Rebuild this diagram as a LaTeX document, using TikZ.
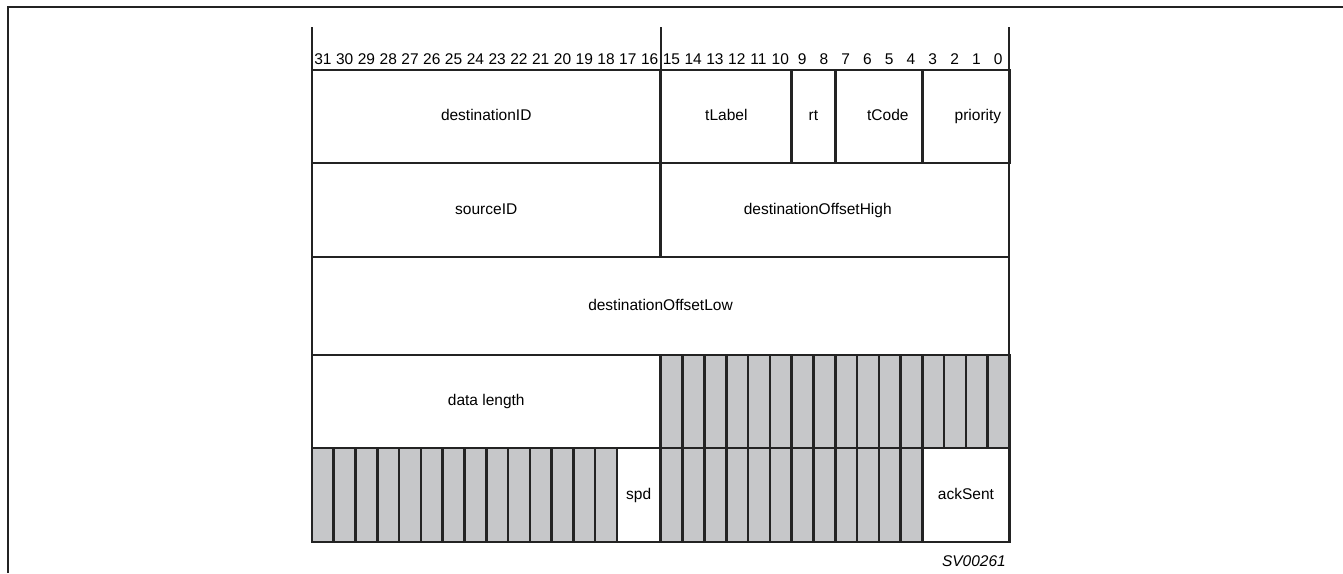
\documentclass[tikz,border=0pt]{standalone}
\usepackage{fontspec}
\setmainfont{Liberation Sans}
\usetikzlibrary{positioning}
\definecolor{cellgray}{RGB}{198,199,201}
\definecolor{linegray}{RGB}{35,35,35}
\newcommand{\bw}{21.78}
\tikzset{
  txt/.style={font=\fontsize{15.5}{18}\selectfont, text height=11pt, text depth=3pt},
  field/.style={txt, draw=linegray, line width=2.6pt, rectangle, inner sep=0pt,
    outer sep=0pt, anchor=north west},
  cell/.style={field, fill=cellgray, minimum width=\bw pt},
  bitnum/.style={inner sep=0pt, font=\fontsize{15.5}{18}\selectfont},
  frame/.style={draw=linegray, line width=2.8pt},
}

\begin{document}
\begin{tikzpicture}[x=1pt, y=-1pt]
    \useasboundingbox (0,0) rectangle (1343,573);
    \draw[frame] (8,573) -- (8,7) -- (1343,7);
    % bit numbers
    \foreach \b in {0,...,31}
        \node[bitnum] (b\b) at ({1009-(\b+0.5)*\bw},59) {\b};
    \draw[field] (312,27) -- (312,70);
    \draw[field] (661,27) -- (661,70);
    \draw[field] (1009,27) -- (1009,70);
    % row 1
    \node[field, minimum width=16*\bw pt, minimum height=93] (dstid) at (312,70) {destinationID};
    \node[field, minimum width=6*\bw pt, minimum height=93] (tlabel) at (661,70) {tLabel};
    \node[field, minimum width=2*\bw pt, minimum height=93] (rt) at (tlabel.north east) {rt};
    \node[field, minimum width=4*\bw pt, minimum height=93,
        label={[txt, xshift=9pt]center:tCode}] (tcode) at (rt.north east) {};
    \node[field, minimum width=4*\bw pt, minimum height=93,
        label={[txt, xshift=12pt]center:priority}] (prio) at (tcode.north east) {};
    % row 2
    \node[field, minimum width=16*\bw pt, minimum height=94] (srcid) at (dstid.south west) {sourceID};
    \node[field, minimum width=16*\bw pt, minimum height=94,
        label={[txt, xshift=-17pt]center:destinationOffsetHigh}] (offhigh) at (srcid.north east) {};
    % row 3
    \node[field, minimum width=32*\bw pt, minimum height=98] (offlow) at (srcid.south west) {destinationOffsetLow};
    % row 4
    \node[field, minimum width=16*\bw pt, minimum height=93] (datalen) at (offlow.south west) {data length};
    \foreach \i in {0,...,15}
        \node[cell, minimum height=93] (ra\i) at ({661+\i*\bw},355) {};
    % row 5
    \foreach \i in {0,...,13}
        \node[cell, minimum height=94] (rl\i) at ({312+\i*\bw},448) {};
    \node[field, minimum width=2*\bw pt, minimum height=94] (spd) at (rl13.north east) {spd};
    \foreach \i in {0,...,11}
        \node[cell, minimum height=94] (rr\i) at ({661+\i*\bw},448) {};
    \node[field, minimum width=4*\bw pt, minimum height=94] (ack) at (rr11.north east) {ackSent};
    \node[anchor=base east, inner sep=0pt, font=\fontsize{15.5}{18}\selectfont\itshape] (fig) at (1006,566) {SV00261};
\end{tikzpicture}
\end{document}
